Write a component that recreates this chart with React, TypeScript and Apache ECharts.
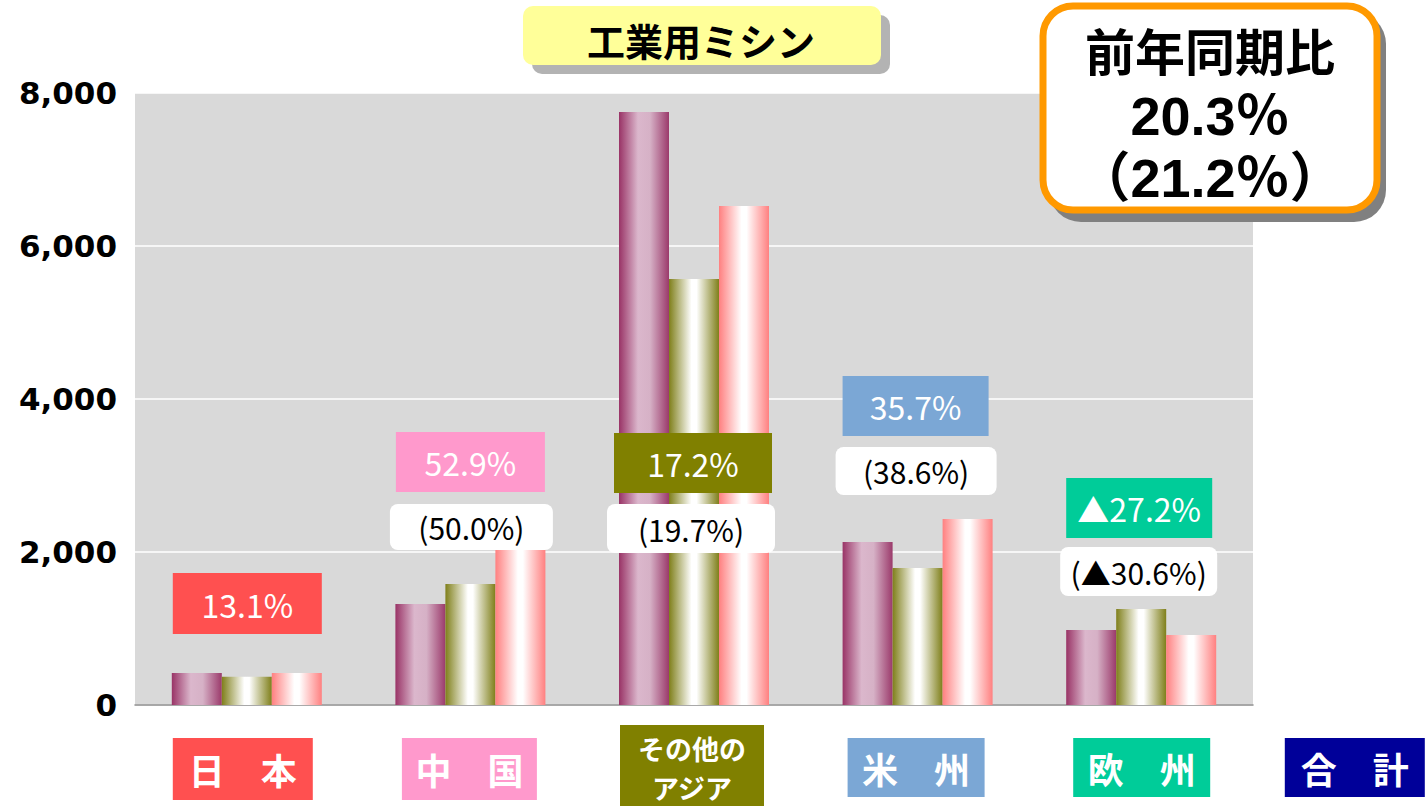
import React, { useEffect, useRef } from "react";
import * as echarts from "echarts";

const title = "工業用ミシン";
const categories = ["日本", "中国", "その他のアジア", "米州", "欧州"];
const categoryLabels = ["日　本", "中　国", "その他の\nアジア", "米　州", "欧　州"];
const totalLabel = "合　計";
const series1 = [418, 1320, 7752, 2131, 980];
const series2 = [370, 1582, 5569, 1791, 1255];
const series3 = [418, 2419, 6523, 2431, 915];
const growthLabels = ["13.1%", "52.9%", "17.2%", "35.7%", "▲27.2%"];
const prevGrowthLabels = ["", "(50.0%)", "(19.7%)", "(38.6%)", "(▲30.6%)"];
const summaryLines = ["前年同期比", "20.3％", "（21.2％）"];
const yMin = 0;
const yMax = 8000;
const yInterval = 2000;

// styling / layout (not data)
const catColors = ["#ff5050", "#ff99cc", "#808000", "#7ba7d5", "#00cc99"];
const totalColor = "#000099";
const growthBox = [
  { dx: 0.5, y: 573, w: 149, h: 61 },
  { dx: 0, y: 432, w: 149, h: 60 },
  { dx: -1, y: 433, w: 158, h: 60 },
  { dx: -2, y: 376, w: 146, h: 60 },
  { dx: -2, y: 478, w: 146, h: 60 },
];
const prevBox = [
  null,
  { dx: 1, y: 504, w: 163, h: 46 },
  { dx: -3, y: 504, w: 168, h: 49 },
  { dx: -1.5, y: 447, w: 161, h: 48 },
  { dx: -2.5, y: 547, w: 157, h: 49 },
];
const catBox = [
  { dx: -4, y: 738, w: 140, h: 62, fs: 36 },
  { dx: -1, y: 738, w: 135, h: 62, fs: 36 },
  { dx: -2, y: 725, w: 144, h: 86, fs: 27 },
  { dx: -1.5, y: 738, w: 137, h: 59, fs: 36 },
  { dx: 0.5, y: 738, w: 137, h: 59, fs: 36 },
];
const summaryStyle = [
  { y: 49, font: "bold 50px 'Noto Sans CJK JP', sans-serif" },
  { y: 116, font: "bold 54px 'Liberation Sans', 'Noto Sans CJK JP', sans-serif" },
  { y: 178, font: "bold 54px 'Liberation Sans', 'Noto Sans CJK JP', sans-serif" },
];

const JP = "'Noto Sans CJK JP', 'Noto Sans', sans-serif";

function grad(stops: [number, string][]) {
  return new echarts.graphic.LinearGradient(
    0, 0, 1, 0,
    stops.map(([offset, color]) => ({ offset, color }))
  );
}

export default function App() {
  const ref = useRef<HTMLDivElement>(null);
  useEffect(() => {
    if (!ref.current) return;
    const chart = echarts.init(ref.current, undefined, { renderer: "svg" });
    const barBase = { type: "bar" as const, barWidth: 50, barGap: "0%" };
    chart.setOption({
      animation: false,
      grid: {
        left: 135,
        right: 173,
        top: 93,
        bottom: 101,
        show: true,
        backgroundColor: "#d9d9d9",
        borderWidth: 0,
      },
      xAxis: {
        type: "category",
        data: categories,
        axisLabel: { show: false },
        axisTick: { show: false },
        axisLine: { show: true, lineStyle: { color: "#8c8c8c", width: 1.5 } },
      },
      yAxis: {
        type: "value",
        min: yMin,
        max: yMax,
        interval: yInterval,
        axisLine: { show: false },
        axisTick: { show: false },
        splitLine: { lineStyle: { color: "#ffffff", width: 1.5 } },
        axisLabel: {
          margin: 18,
          color: "#000",
          fontSize: 31,
          fontWeight: "bold",
          fontFamily: "'DejaVu Sans', sans-serif",
          formatter: (v: number) => v.toLocaleString("en-US"),
        },
      },
      series: [
        {
          ...barBase,
          name: "s1",
          data: series1,
          itemStyle: {
            color: grad([
              [0, "#993366"],
              [0.38, "#dbb7cc"],
              [0.62, "#d6b1c6"],
              [1, "#9b3a6b"],
            ]),
          },
        },
        {
          ...barBase,
          name: "s2",
          data: series2,
          itemStyle: {
            color: grad([
              [0, "#7f7f1a"],
              [0.45, "#ffffff"],
              [0.55, "#ffffff"],
              [1, "#7f7f1a"],
            ]),
          },
        },
        {
          ...barBase,
          name: "s3",
          data: series3,
          itemStyle: {
            color: grad([
              [0, "#ff8080"],
              [0.45, "#ffffff"],
              [0.55, "#ffffff"],
              [1, "#ff8080"],
            ]),
          },
        },
      ],
    });

    const centers = categories.map(
      (c) => chart.convertToPixel({ xAxisIndex: 0 }, c) as number
    );
    const step = centers.length > 1 ? centers[1] - centers[0] : 224;
    const elements: any[] = [];

    // title
    elements.push(
      { type: "rect", z: 100, shape: { x: 532, y: 15, width: 358, height: 59, r: 10 }, style: { fill: "#b3b3b3" } },
      { type: "rect", z: 101, shape: { x: 523, y: 6, width: 358, height: 59, r: 10 }, style: { fill: "#ffff99" } },
      {
        type: "text", z: 102,
        style: { x: 701, y: 39, text: title, fill: "#000", font: `bold 38px ${JP}`, textAlign: "center", textVerticalAlign: "middle" },
      }
    );

    // summary box
    elements.push(
      { type: "rect", z: 100, shape: { x: 1049, y: 12, width: 337, height: 210, r: 32 }, style: { fill: "#808080" } },
      { type: "rect", z: 101, shape: { x: 1043, y: 6, width: 334, height: 204, r: 30 }, style: { fill: "#ffffff", stroke: "#ff9900", lineWidth: 7 } }
    );
    summaryLines.forEach((t, i) => {
      elements.push({
        type: "text", z: 102,
        style: {
          x: 1210, y: summaryStyle[i].y, text: t, fill: "#000",
          font: summaryStyle[i].font, textAlign: "center", textVerticalAlign: "middle",
        },
      });
    });

    // growth labels
    growthLabels.forEach((t, i) => {
      const b = growthBox[i];
      const cx = centers[i] + b.dx;
      elements.push(
        { type: "rect", z: 110, shape: { x: cx - b.w / 2, y: b.y, width: b.w, height: b.h }, style: { fill: catColors[i] } },
        {
          type: "text", z: 111,
          style: { x: cx, y: b.y + b.h / 2, text: t, fill: "#fff", font: `32px ${JP}`, textAlign: "center", textVerticalAlign: "middle" },
        }
      );
    });
    prevGrowthLabels.forEach((t, i) => {
      const b = prevBox[i];
      if (!b || !t) return;
      const cx = centers[i] + b.dx;
      elements.push(
        { type: "rect", z: 110, shape: { x: cx - b.w / 2, y: b.y, width: b.w, height: b.h, r: 8 }, style: { fill: "#ffffff" } },
        {
          type: "text", z: 111,
          style: { x: cx, y: b.y + b.h / 2, text: t, fill: "#000", font: `30px ${JP}`, textAlign: "center", textVerticalAlign: "middle" },
        }
      );
    });

    // category boxes
    categoryLabels.forEach((t, i) => {
      const b = catBox[i];
      const cx = centers[i] + b.dx;
      elements.push(
        { type: "rect", z: 110, shape: { x: cx - b.w / 2, y: b.y, width: b.w, height: b.h }, style: { fill: catColors[i] } },
        {
          type: "text", z: 111,
          style: {
            x: cx, y: b.y + b.h / 2, text: t, fill: "#fff",
            font: `bold ${b.fs}px ${JP}`, lineHeight: b.fs * 1.45,
            textAlign: "center", textVerticalAlign: "middle",
          },
        }
      );
    });
    const tcx = centers[centers.length - 1] + step - 10;
    elements.push(
      { type: "rect", z: 110, shape: { x: tcx - 70, y: 738, width: 140, height: 59 }, style: { fill: totalColor } },
      {
        type: "text", z: 111,
        style: { x: tcx, y: 767.5, text: totalLabel, fill: "#fff", font: `bold 36px ${JP}`, textAlign: "center", textVerticalAlign: "middle" },
      }
    );

    chart.setOption({ graphic: { elements } });

    return () => chart.dispose();
  }, []);

  return (
    <div
      ref={ref}
      style={{ position: "absolute", left: 0, top: 0, width: 1426, height: 806, background: "#fff" }}
    />
  );
}
